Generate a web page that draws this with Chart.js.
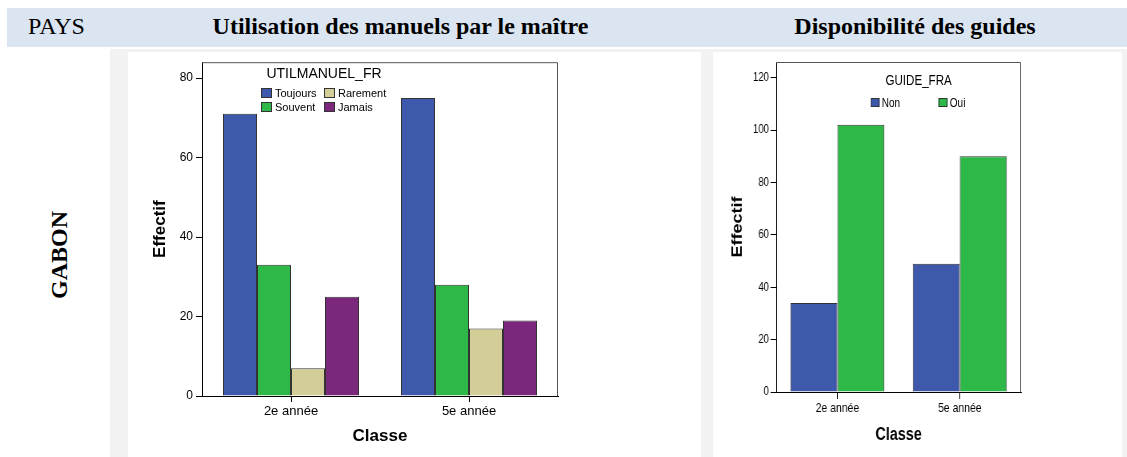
<!DOCTYPE html>
<html lang="fr">
<head>
<meta charset="utf-8">
<title>GABON – manuels et guides</title>
<script src="https://cdn.jsdelivr.net/npm/chart.js@4.4.1/dist/chart.umd.min.js"></script>
<style>
    html, body { margin: 0; padding: 0; background: #fff; }
    body { width: 1127px; height: 457px; position: relative; overflow: hidden; font-family: "Liberation Sans", Arial, sans-serif; color: #000; }
    .head { position: absolute; left: 7px; top: 8px; width: 1120px; height: 39px; background: #dbe5f1; }
    .head div { position: absolute; top: 5px; font-family: "Liberation Serif", "Times New Roman", serif; font-size: 24px; white-space: nowrap; }
    .head .t { font-weight: bold; transform: translateX(-50%); }
    .pays { position: absolute; left: 59px; top: 255px; transform: translate(-50%, -50%) rotate(-90deg); font-family: "Liberation Serif", "Times New Roman", serif; font-size: 24px; font-weight: bold; white-space: nowrap; }
    .back { position: absolute; left: 110px; top: 49px; width: 1017px; height: 408px; background: #f2f2f2; }
    .panel { position: absolute; top: 52px; height: 405px; background: #fff; }
    .legend { position: absolute; text-align: center; white-space: nowrap; }
    .legend .ttl { height: 18px; line-height: 18px; }
    .legend .items { display: grid; grid-auto-flow: column; text-align: left; }
    .legend .item { display: flex; align-items: center; }
    .legend .box { box-sizing: border-box; border: 1px solid #333; }
</style>
</head>
<body>
<div class="head">
    <div style="left:21px">PAYS</div>
    <div class="t" style="left:393.5px">Utilisation des manuels par le maître</div>
    <div class="t" style="left:908px">Disponibilité des guides</div>
</div>
<div class="pays">GABON</div>
<div class="back"></div>

<div class="panel" style="left:128px;width:573px">
    <canvas id="utilChart" width="573" height="405"></canvas>
    <div class="legend" id="utilLegend" style="left:133px;top:12px;width:126px">
        <div class="ttl" style="font-size:14px">UTILMANUEL_FR</div>
        <div class="items" style="grid-template-rows:14px 14px;grid-template-columns:63px auto;margin-top:4px;font-size:11px"></div>
    </div>
</div>

<div class="panel" style="left:713px;width:511px;transform:scaleX(0.8);transform-origin:0 0">
    <canvas id="guideChart" width="511" height="405"></canvas>
    <div class="legend" id="guideLegend" style="left:197px;top:19px;width:120px">
        <div class="ttl" style="font-size:14.5px">GUIDE_FRA</div>
        <div class="items" style="grid-template-rows:13px;grid-template-columns:85px auto;margin-top:7px;font-size:12.5px"></div>
    </div>
</div>

<script>
    // categories
    const classes = ["2e année", "5e année"];

    // UTILMANUEL_FR
    const utilLabels = ["Toujours", "Souvent", "Rarement", "Jamais"];
    const toujours = [71, 75];
    const souvent = [33, 28];
    const rarement = [7, 17];
    const jamais = [25, 19];
    const utilTicks = [0, 20, 40, 60, 80];

    // GUIDE_FRA
    const guideLabels = ["Non", "Oui"];
    const guideNon = [34, 49];
    const guideOui = [102, 90];
    const guideTicks = [0, 20, 40, 60, 80, 100, 120];

    const blue = "#3e58ac", green = "#2eb848", tan = "#d3ce97", purple = "#7b287c";

    Chart.defaults.font.family = '"Liberation Sans", Arial, sans-serif';
    Chart.defaults.color = "#000";

    // top and right edge of the plot box
    const framePlugin = {
        id: "frame",
        afterDatasetsDraw(chart) {
            const { ctx, chartArea } = chart;
            ctx.save();
            ctx.strokeStyle = "#555";
            ctx.lineWidth = 1;
            ctx.beginPath();
            ctx.moveTo(chartArea.left, chartArea.top + 0.5);
            ctx.lineTo(chartArea.right - 0.5, chartArea.top + 0.5);
            ctx.lineTo(chartArea.right - 0.5, chartArea.bottom);
            ctx.stroke();
            ctx.restore();
        },
    };

    function bar(label, data, color) {
        return {
            label: label,
            data: data,
            backgroundColor: color,
            borderColor: "#333",
            borderWidth: 1,
            barPercentage: 1,
        };
    }

    function options(o) {
        return {
            responsive: false,
            animation: false,
            layout: { padding: o.padding },
            plugins: { legend: { display: false }, tooltip: { enabled: false } },
            datasets: { bar: { categoryPercentage: o.catPct } },
            scales: {
                x: {
                    offset: true,
                    border: { color: "#000", width: 1 },
                    grid: { offset: false, drawOnChartArea: false, drawTicks: true, tickLength: o.tick, color: "#000" },
                    ticks: { padding: 2, font: { size: 13 } },
                    title: { display: true, text: "Classe", font: { size: o.titleSize, weight: "bold" }, padding: { top: 0, bottom: o.xTitlePad } },
                    afterFit: (s) => { s.height = o.xHeight; },
                },
                y: {
                    min: 0,
                    max: o.yMax,
                    border: { color: "#000", width: 1 },
                    grid: { drawOnChartArea: false, drawTicks: true, tickLength: o.tick, color: "#000" },
                    ticks: { padding: o.yTickPad, font: { size: 12 } },
                    title: { display: true, text: "Effectif", font: { size: o.titleSize, weight: "bold" }, padding: { top: o.yTitlePad, bottom: 0 } },
                    afterBuildTicks: (s) => { s.ticks = o.yTicks.map((v) => ({ value: v })); },
                    afterFit: (s) => { s.width = o.yWidth; },
                },
            },
        };
    }

    function htmlLegend(chart, el, boxW, boxH, gap) {
        const items = el.querySelector(".items");
        chart.data.datasets.forEach((ds) => {
            const item = document.createElement("div");
            item.className = "item";
            const box = document.createElement("span");
            box.className = "box";
            box.style.width = boxW + "px";
            box.style.height = boxH + "px";
            box.style.marginRight = gap + "px";
            box.style.background = ds.backgroundColor;
            const txt = document.createElement("span");
            txt.textContent = ds.label;
            item.appendChild(box);
            item.appendChild(txt);
            items.appendChild(item);
        });
    }

    const utilChart = new Chart(document.querySelector("#utilChart"), {
        type: "bar",
        data: {
            labels: classes,
            datasets: [
                bar(utilLabels[0], toujours, blue),
                bar(utilLabels[1], souvent, green),
                bar(utilLabels[2], rarement, tan),
                bar(utilLabels[3], jamais, purple),
            ],
        },
        options: options({
            padding: { left: 0, right: 143, top: 7, bottom: 0 },
            catPct: 0.764,
            tick: 6,
            titleSize: 17,
            xTitlePad: 10,
            xHeight: 61,
            yMax: 84,
            yTicks: utilTicks,
            yTickPad: 3,
            yTitlePad: 22,
            yWidth: 74,
        }),
        plugins: [framePlugin],
    });
    htmlLegend(utilChart, document.querySelector("#utilLegend"), 11, 10, 3);

    const guideChart = new Chart(document.querySelector("#guideChart"), {
        type: "bar",
        data: {
            labels: classes,
            datasets: [
                bar(guideLabels[0], guideNon, blue),
                bar(guideLabels[1], guideOui, green),
            ],
        },
        options: options({
            padding: { left: 0, right: 126, top: 10, bottom: 0 },
            catPct: 0.768,
            tick: 7,
            titleSize: 18,
            xTitlePad: 11,
            xHeight: 65,
            yMax: 126,
            yTicks: guideTicks,
            yTickPad: 2,
            yTitlePad: 20,
            yWidth: 79,
        }),
        plugins: [framePlugin],
    });
    htmlLegend(guideChart, document.querySelector("#guideLegend"), 11, 9, 3);
</script>
</body>
</html>
